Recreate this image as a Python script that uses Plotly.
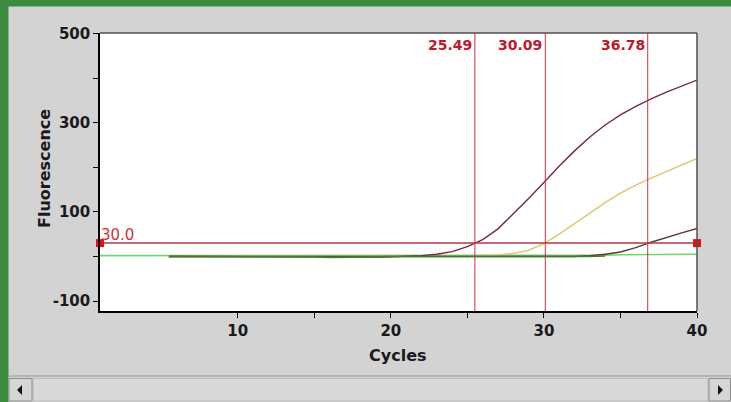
import plotly.graph_objects as go

# ---- data ----
amp_cycles = [5.5] + list(range(6, 41))
maroon_vals = [0, 0, 0, 0, 0, 0, 0, -1, -1, -1, 0, 0, -1, -1, -2, -1, 1, 2, 5, 11, 22,
               38, 62, 95, 130, 166, 203, 237, 268, 295, 318, 337, 354, 369, 383, 396]
yellow_vals = [0, 0, 0, 0, 0, 0, 0, 0, 0, 0, 0, 0, 0, 0, 0, 0, 0, 0, 0, 0, 0,
               1, 3, 7, 14, 29, 50, 74, 98, 121, 142, 160, 176, 191, 205, 220]
dark_vals = [0, 0, 0, 0, 0, 0, 0, 0, 0, 0, 0, 0, 0, 0, 0, 0, 0, 0, 0, 0, 0,
             0, 0, 0, 0, 0, 0, 0, 2, 5, 10, 20, 32, 43, 53, 63]
dgreen_cycles = [5.5] + list(range(6, 35))
dgreen_vals = [0, 0, 0, 0, 0, 0, 0, -1, -1, -1, -1, -2, -2, -1, -1, 0, 0, -1, -1, -1,
               -1, -1, -1, 0, 0, 0, -1, -1, 0, 1]
lgreen_cycles = list(range(1, 41))
lgreen_vals = [2] * 30 + [2, 3, 3, 3, 4, 4, 4, 5, 5, 5]

threshold = 30.0
ct_values = [25.49, 30.09, 36.78]
ct_labels = ["25.49", "30.09", "36.78"]

x_tickvals = [10, 15, 20, 25, 30, 35, 40]
x_ticktext = ["10", "", "20", "", "30", "", "40"]
y_tickvals = [-100, 0, 100, 200, 300, 400, 500]
y_ticktext = ["-100", "", "100", "", "300", "", "500"]

# ---- geometry helpers (figure pixels -> paper) ----
W, H = 731, 402
ML, MR, MT, MB = 100, 34, 33, 91
PW, PH = W - ML - MR, H - MT - MB


def xp(px):
    return (px - ML) / PW


def yp(py):
    return (H - MB - py) / PH


fig = go.Figure()

series = [
    (lgreen_cycles, lgreen_vals, "#6ad86a", 1.6),
    (amp_cycles, yellow_vals, "#e2c46a", 1.4),
    (amp_cycles, dark_vals, "#5a3838", 1.4),
    (amp_cycles, maroon_vals, "#702a4c", 1.4),
    (dgreen_cycles, dgreen_vals, "#4a7a30", 1.6),
]
for xs, ys, col, w in series:
    fig.add_trace(go.Scatter(x=xs, y=ys, mode="lines", line=dict(color=col, width=w),
                             hoverinfo="skip", showlegend=False))

# threshold line with end markers
fig.add_trace(go.Scatter(x=[1, 40], y=[threshold, threshold], mode="lines+markers",
                         line=dict(color="#b03848", width=1.5),
                         marker=dict(symbol="square", size=8, color="#e81010"),
                         cliponaxis=False, hoverinfo="skip", showlegend=False))

shapes = []
# Ct vertical lines
for ct in ct_values:
    shapes.append(dict(type="line", xref="x", yref="paper", x0=ct, x1=ct, y0=0, y1=1,
                       line=dict(color="#cc3040", width=1)))
# plot frame top/right
shapes.append(dict(type="line", xref="paper", yref="paper", x0=0, x1=1, y0=1, y1=1,
                   line=dict(color="#505050", width=1.5)))
shapes.append(dict(type="line", xref="paper", yref="paper", x0=1, x1=1, y0=0, y1=1,
                   line=dict(color="#505050", width=1.5)))
# green window border
shapes.append(dict(type="rect", xref="paper", yref="paper", x0=xp(0), x1=xp(8.5),
                   y0=yp(H), y1=yp(0), fillcolor="#3d8c3d", line=dict(width=0), layer="below"))
shapes.append(dict(type="rect", xref="paper", yref="paper", x0=xp(0), x1=xp(W),
                   y0=yp(6.5), y1=yp(0), fillcolor="#3d8c3d", line=dict(width=0), layer="below"))
# scrollbar
shapes.append(dict(type="line", xref="paper", yref="paper", x0=xp(8.5), x1=xp(W),
                   y0=yp(376), y1=yp(376), line=dict(color="#9a9a9a", width=1)))
shapes.append(dict(type="rect", xref="paper", yref="paper", x0=xp(33), x1=xp(708),
                   y0=yp(401), y1=yp(378.5), fillcolor="#d9d9d9",
                   line=dict(color="#bdbdbd", width=1)))
for bx0, bx1 in [(9, 32), (709, 730.5)]:
    shapes.append(dict(type="rect", xref="paper", yref="paper", x0=xp(bx0), x1=xp(bx1),
                       y0=yp(401), y1=yp(378.5), fillcolor="#d6d6d6",
                       line=dict(color="#8e8e8e", width=1)))
# arrows
lx, ly = 20, 390
shapes.append(dict(type="path", xref="paper", yref="paper",
                   path=f"M {xp(lx-3)} {yp(ly)} L {xp(lx+2)} {yp(ly-5)} L {xp(lx+2)} {yp(ly+5)} Z",
                   fillcolor="#111", line=dict(width=0)))
rx = 720
shapes.append(dict(type="path", xref="paper", yref="paper",
                   path=f"M {xp(rx+3)} {yp(ly)} L {xp(rx-2)} {yp(ly-5)} L {xp(rx-2)} {yp(ly+5)} Z",
                   fillcolor="#111", line=dict(width=0)))

annotations = []
for ct, lab in zip(ct_values, ct_labels):
    annotations.append(dict(x=ct, y=yp(45), xref="x", yref="paper", text=lab,
                            showarrow=False, xanchor="right", yanchor="middle", xshift=-1,
                            font=dict(family="DejaVu Sans", size=14, color="#c01828", weight="bold")))
annotations.append(dict(x=1, y=threshold, xref="x", yref="y", text=f"{threshold:.1f}",
                        showarrow=False, xanchor="left", yanchor="bottom", xshift=-1, yshift=-3,
                        font=dict(family="DejaVu Sans", size=15, color="#d83030")))
annotations.append(dict(x=xp(398), y=yp(355), xref="paper", yref="paper", text="Cycles",
                        showarrow=False, xanchor="center", yanchor="middle",
                        font=dict(family="DejaVu Sans", size=16, color="#1a1a1a", weight="bold")))
annotations.append(dict(x=xp(44), y=yp(169), xref="paper", yref="paper", text="Fluorescence",
                        showarrow=False, xanchor="center", yanchor="middle", textangle=-90,
                        font=dict(family="DejaVu Sans", size=16, color="#1a1a1a", weight="bold")))

tickfont = dict(family="DejaVu Sans", size=15, color="#1a1a1a", weight="bold")
fig.update_layout(
    width=W, height=H,
    margin=dict(l=ML, r=MR, t=MT, b=MB, pad=0),
    paper_bgcolor="#d3d3d3", plot_bgcolor="#ffffff",
    shapes=shapes, annotations=annotations,
    xaxis=dict(range=[1, 40], tickmode="array", tickvals=x_tickvals, ticktext=x_ticktext,
               ticks="outside", ticklen=5, tickwidth=1, tickcolor="#000",
               showline=True, linecolor="#000", linewidth=1.5, showgrid=False,
               zeroline=False, tickfont=tickfont, fixedrange=True),
    yaxis=dict(range=[-122.4, 501.6], tickmode="array", tickvals=y_tickvals, ticktext=y_ticktext,
               ticks="outside", ticklen=5, tickwidth=1, tickcolor="#000",
               showline=True, linecolor="#000", linewidth=1.5, showgrid=False,
               zeroline=False, tickfont=tickfont, fixedrange=True),
)

fig.write_html(
    "out.html",
    config={"displayModeBar": False},
    post_script="document.body.style.margin='0';document.body.style.overflow='hidden';",
)
